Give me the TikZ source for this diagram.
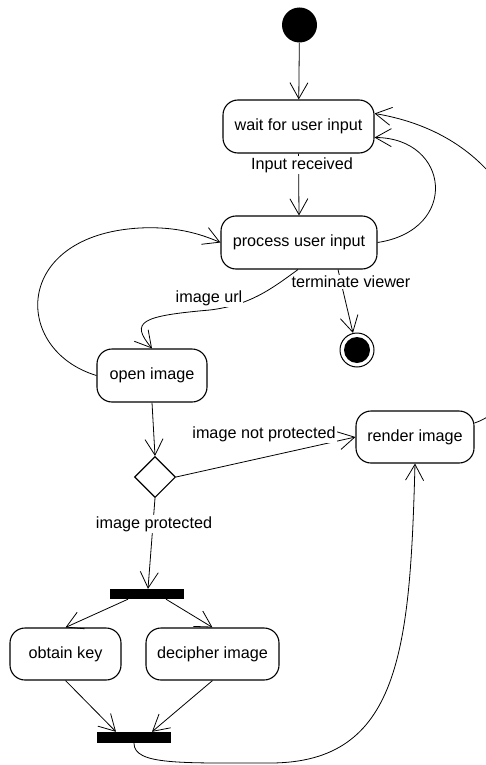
\documentclass[tikz,border=0pt]{standalone}
\usepackage{fontspec}
\setmainfont{Liberation Sans}
\usetikzlibrary{arrows.meta,shapes.geometric}

\begin{document}
\begin{tikzpicture}[x=1pt,y=-1pt,
  every node/.style={font=\fontsize{16.2}{19}\selectfont},
  act/.style={draw, line width=1.1pt, rounded corners=15pt, inner sep=0pt},
  bar/.style={fill=black, inner sep=0pt},
  flow/.style={line width=0.8pt, -{Straight Barb[length=16pt,width=18pt,line width=0.8pt]}},
  lbl/.style={fill=white, inner sep=1pt}]
\useasboundingbox (0,0) rectangle (486,765);
\clip (0,0) rectangle (486,765);

% start and end states
\node[circle, fill=black, minimum size=35pt, inner sep=0pt] (init) at (299.5,25) {};
\node[circle, draw, line width=1pt, minimum size=34pt, inner sep=0pt] (final) at (357,350) {};
\fill (final.center) circle (13pt);

% activities
\node[act, minimum width=151pt, minimum height=53pt] (wait) at (298.5,126.5) {wait for user input};
\node[act, minimum width=156pt, minimum height=53pt] (proc) at (299,242.5) {process user input};
\node[act, minimum width=110pt, minimum height=53pt] (open) at (152,375.5) {open image};
\node[act, minimum width=118pt, minimum height=52pt] (render) at (415,437) {render image};
\node[act, minimum width=111pt, minimum height=52pt] (key) at (65.5,654) {obtain key};
\node[act, minimum width=133pt, minimum height=52pt] (deci) at (212.5,654) {decipher image};

% decision, fork and join
\node[diamond, draw, line width=1.1pt, minimum width=41pt, minimum height=41pt, inner sep=0pt] (dec) at (155,477) {};
\node[bar, minimum width=74pt, minimum height=10pt] (fork) at (147,594) {};
\node[bar, minimum width=74pt, minimum height=11pt] (join) at (134,737.5) {};

% transitions
\draw[flow] (init) -- (wait);
\draw[flow] (wait.south) -- (proc.north);
\draw[flow] ([xshift=39pt]proc.south) -- (final);
\draw[flow] ([xshift=-1pt]proc.south) .. controls (270,290) and (250,305) .. (210,310)
  .. controls (140,316) and (130,322) .. (open.north);
\draw[flow] (open.west) .. controls (12,350) and (12,235) .. (140,228)
  .. controls (180,226) and (205,236) .. (proc.west);
\draw[flow] (proc.east) .. controls (460,230) and (450,138) .. ([yshift=-11pt]wait.east);
\draw[flow] ([yshift=14pt]render.east) .. controls (560,395) and (580,148) .. ([yshift=13pt]wait.east);
\draw[flow] (open.south) -- (dec.north);
\draw[flow] (dec.east) -- (render.west);
\draw[flow] (dec.south) -- ([xshift=1pt]fork.north);
\draw[flow] ([xshift=-19pt]fork.south) -- (key.north);
\draw[flow] ([xshift=19pt]fork.south) -- (deci.north);
\draw[flow] (key.south) -- ([xshift=-18pt]join.north);
\draw[flow] (deci.south) -- ([xshift=18pt]join.north);
\draw[flow] (join.south) .. controls (134,765) and (180,763) .. (270,763)
  .. controls (400,763) and (410,650) .. (render.south);

% guard labels
\node[lbl] (lrecv) at (302,165) {Input received};
\node[lbl] (lterm) at (351,282) {terminate viewer};
\node[lbl] (lurl) at (209,298) {image url};
\node[lbl] (lnot) at (264,434) {image not protected};
\node[lbl] (lprot) at (154,524) {image protected};
\end{tikzpicture}
\end{document}
